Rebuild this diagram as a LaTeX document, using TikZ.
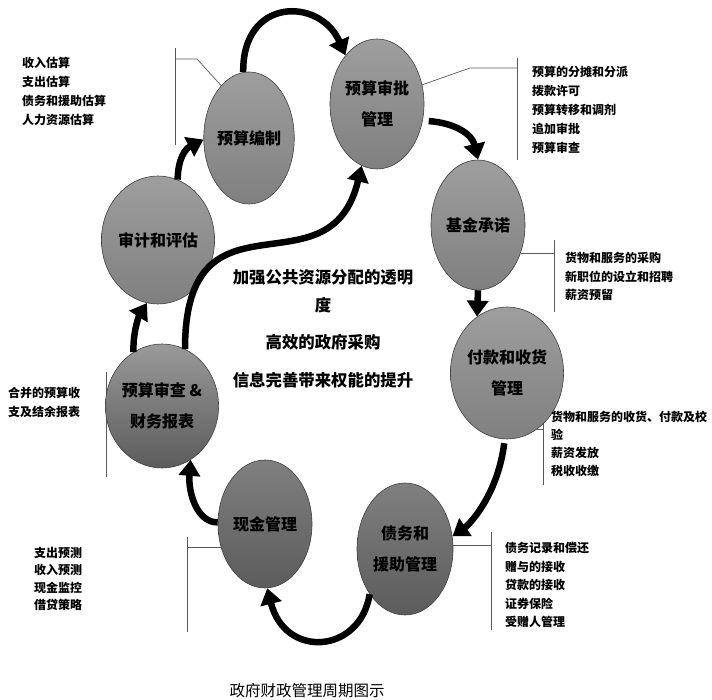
\documentclass[tikz,border=0pt]{standalone}
\usepackage{fontspec}
\setmainfont{Noto Sans CJK SC}
\usetikzlibrary{arrows.meta,shapes.geometric,backgrounds}
\tikzset{
  cycnode/.style={ellipse, draw=black!75, line width=0.6pt,
    top color=black!38, bottom color=black!50,
    minimum width=94pt, minimum height=130pt, inner sep=0pt,
    align=center, font=\bfseries\fontsize{16}{31}\selectfont},
  cycdark/.style={cycnode, top color=black!50, bottom color=black!64},
  cycarr/.style={-{Triangle[length=16pt,width=21pt]}, line width=6.5pt},
  cycbrk/.style={draw=black!65, line width=0.7pt},
  cyclist/.style={anchor=north west, inner sep=0pt, align=left,
    font=\bfseries\fontsize{12}{18.5}\selectfont},
  cycmid/.style={inner sep=0pt, align=center,
    font=\bfseries\fontsize{16.4}{28}\selectfont},
}
\begin{document}
\begin{tikzpicture}[x=1pt, y=1pt]
  \useasboundingbox (0,0) rectangle (712,699);
  % Stages of the cycle
  \node[cycnode, minimum width=88pt, minimum height=132pt] at (249,561) (Bz) {预算编制};
  \node[cycnode] at (377,595) (Sp) {预算审批\\管理};
  \node[cycnode] at (478,474) (Jj) {基金承诺};
  \node[cycnode, minimum width=92pt, minimum height=132pt] at (507,326) (Fk) {付款和收货\\管理};
  \node[cycdark, minimum width=96pt, minimum height=132pt] at (405,150) (Zw) {债务和\\援助管理};
  \node[cycdark, minimum height=128pt] at (265,175) (Xj) {现金管理};
  \node[cycnode, top color=black!40, bottom color=black!64,
    minimum width=88pt, minimum height=124pt] at (162,293) (Sc) {预算审查 \&\\财务报表};
  \node[cycnode, minimum width=92pt, minimum height=128pt] at (158,459) (Sj) {审计和评估};
  % Middle texts
  \node[cycmid] at (323,408) (Mid1) {加强公共资源分配的透明\\度};
  \node[cycmid] at (323,357) (Mid2) {高效的政府采购};
  \node[cycmid] at (323,319) (Mid3) {信息完善带来权能的提升};
  % Task lists
  \node[cyclist, font=\bfseries\fontsize{12}{19}\selectfont] at (22,642) (BzList)
    {收入估算\\支出估算\\债务和援助估算\\人力资源估算};
  \node[cyclist, font=\bfseries\fontsize{12}{19}\selectfont] at (532,633) (SpList)
    {预算的分摊和分派\\拨款许可\\预算转移和调剂\\追加审批\\预算审查};
  \node[cyclist] at (565,447) (JjList)
    {货物和服务的采购\\新职位的设立和招聘\\薪资预留};
  \node[cyclist, font=\bfseries\fontsize{12}{17.8}\selectfont] at (551,288) (FkList)
    {货物和服务的收货、付款及校\\验\\薪资发放\\税收收缴};
  \node[cyclist, font=\bfseries\fontsize{12}{18.6}\selectfont] at (505,157) (ZwList)
    {债务记录和偿还\\赠与的接收\\贷款的接收\\证券保险\\受赠人管理};
  \node[cyclist, font=\bfseries\fontsize{12}{17.4}\selectfont] at (34,152) (XjList)
    {支出预测\\收入预测\\现金监控\\借贷策略};
  \node[cyclist, font=\bfseries\fontsize{12}{19}\selectfont] at (8,312) (ScList)
    {合并的预算收\\支及结余报表};
  % Caption
  \node[inner sep=0pt, font=\fontsize{15.5}{16}\selectfont] at (307,8) (Cap) {政府财政管理周期图示};
  % Brackets
  \begin{scope}[on background layer]
    \coordinate (BzT) at (175,651); \coordinate (BzB) at (175,554);
    \draw[cycbrk] (BzT) -- (BzB);
    \draw[cycbrk] (Bz.118) -- (197,640) -- (BzT |- 0,640);
    \coordinate (SpT) at (517,641); \coordinate (SpB) at (517,539);
    \draw[cycbrk] (SpT) -- (SpB);
    \draw[cycbrk] (Sp.23) -- (470,631) -- (SpT |- 0,631);
    \coordinate (JjT) at (554,459); \coordinate (JjB) at (554,387);
    \draw[cycbrk] (JjT) -- (JjB);
    \draw[cycbrk] (Jj.-34) -- (JjT |- Jj.-34);
    \coordinate (FkT) at (543,289); \coordinate (FkB) at (543,214);
    \draw[cycbrk] (FkT) -- (FkB);
    \draw[cycbrk] (Fk.-62) -- (FkT |- Fk.-62);
    \coordinate (ZwT) at (491,167); \coordinate (ZwB) at (491,69);
    \draw[cycbrk] (ZwT) -- (ZwB);
    \draw[cycbrk] (Zw.4) -- (ZwT |- Zw.4);
    \coordinate (XjT) at (187,162); \coordinate (XjB) at (187,67);
    \draw[cycbrk] (XjT) -- (XjB);
    \draw[cycbrk] (Xj.208) -- (XjT |- Xj.208);
    \coordinate (ScT) at (106,327); \coordinate (ScB) at (106,222);
    \draw[cycbrk] (ScT) -- (ScB);
    \draw[cycbrk] (Sc.163) -- (ScT |- Sc.163);
  \end{scope}
  % Cycle arrows
  \draw[cycarr] (Bz.95) .. controls (242,702) and (320,702) .. (Sp.123);
  \draw[cycarr, shorten <=6pt] (Sp.-20) .. controls (455,576) and (472,565) .. (Jj.90);
  \draw[cycarr] (Jj.south) -- (Fk.118);
  \draw[cycarr, shorten <=4pt] (Fk.-92) .. controls (498,205) and (470,175) .. (Zw.15);
  \draw[cycarr] (Zw.232) .. controls (360,45) and (285,40) .. (Xj.-88);
  \draw[cycarr] (Xj.178) .. controls (198,176) and (188,205) .. (Sc.-62);
  \draw[cycarr] (Sc.118) .. controls (133,370) and (140,385) .. (Sj.-100);
  \draw[cycarr] (Sj.72) .. controls (178,540) and (185,550) .. (Bz.182);
  \draw[cycarr] (Sc.68) .. controls (185,520) and (330,400) .. (Sp.-104);
\end{tikzpicture}
\end{document}
